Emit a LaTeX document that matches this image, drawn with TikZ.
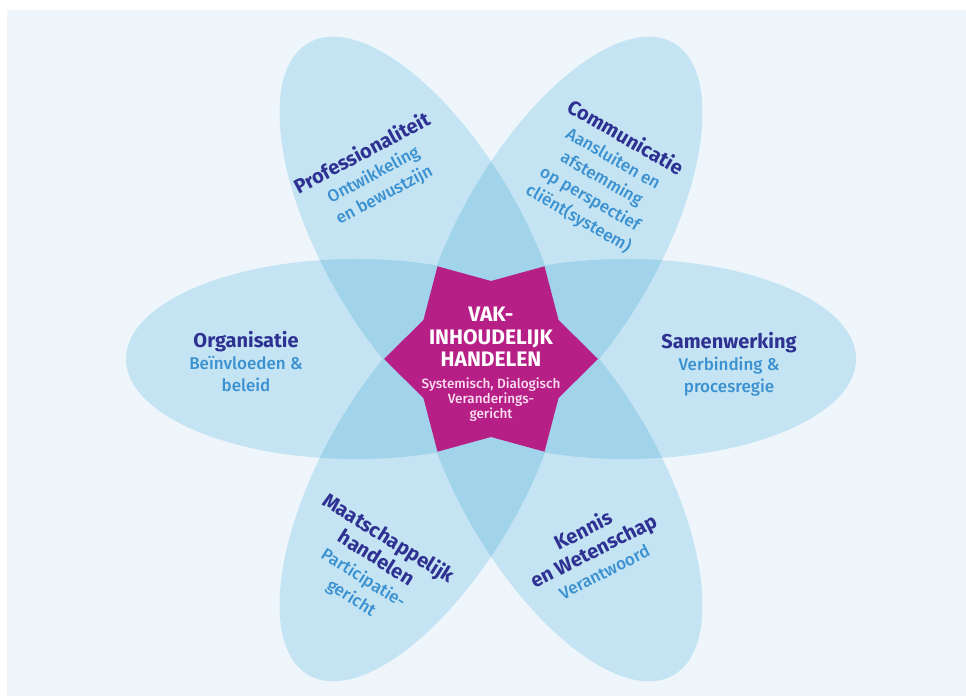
\documentclass[tikz,border=0pt]{standalone}
\usepackage{fontspec}
\setmainfont{Fira Sans}[UprightFont=* Medium, BoldFont=* Bold]

\definecolor{bgblue}{RGB}{238,246,251}
\definecolor{petalblue}{RGB}{196,228,243}
\definecolor{lensblue}{RGB}{161,211,235}
\definecolor{starpink}{RGB}{182,31,134}
\definecolor{titleblue}{RGB}{46,49,146}
\definecolor{subblue}{RGB}{59,145,208}
\definecolor{starsub}{RGB}{250,222,240}

\newcommand{\kop}{\color{titleblue}\bfseries\fontsize{20}{23}\selectfont}

\begin{document}
\begin{tikzpicture}[
					x = 1pt, y = 1pt,
					petal/.style = {fill = petalblue},
					lens/.style = {fill = lensblue},
					hexstar/.style = {fill = starpink},
					petaltext/.style = {
						align = center,
						text = subblue,
						inner sep = 0pt,
						font = \fontsize{17}{22}\selectfont,
					},
					tilted/.style = {
						petaltext,
						font = \fontsize{17}{23}\selectfont,
					},
					kerntext/.style = {
						align = center,
						text = white,
						inner sep = 0pt,
					},
			]
				\useasboundingbox (0, 0) rectangle (966, 696);
				\fill[white] (0, 0) rectangle (966, 696);
				\fill[bgblue] (7, 0) rectangle (966, 686);
				\coordinate (c) at (491, 337);

				% petals
				\foreach \a in {0, 60, ..., 300}
					\fill[petal, shift = {(c)}, rotate = \a] (135, 0) ellipse [x radius = 230, y radius = 100];

				% overlap of neighbouring petals
				\foreach \a in {0, 60, ..., 300} {
					\begin{scope}
						\clip[shift = {(c)}, rotate = \a] (135, 0) ellipse [x radius = 230, y radius = 100];
						\fill[lens, shift = {(c)}, rotate = \a + 60] (135, 0) ellipse [x radius = 230, y radius = 100];
					\end{scope}
				}

				% star in the middle
				\fill[hexstar, shift = {(c)}] (0:107)
					\foreach \k in {0, 60, ..., 300} { -- (\k + 30:78) -- (\k + 60:107) } -- cycle;

				\node[kerntext, font = \bfseries\fontsize{21}{22.5}\selectfont] (kern) at (491, 359) {VAK-\\INHOUDELIJK\\HANDELEN};
				\node[kerntext, text = starsub, font = \fontsize{13.5}{15}\selectfont] (kernsub) at (491, 296) {Systemisch, Dialogisch\\Veranderings-\\gericht};

				\node[petaltext] (org) at (246, 334) {{\kop Organisatie}\\Beïnvloeden \&\\beleid};
				\node[petaltext] (samen) at (729, 332) {{\kop Samenwerking}\\Verbinding \&\\procesregie};
				\node[tilted, rotate = 28] (prof) at (373, 522) {{\kop Professionaliteit}\\Ontwikkeling\\en bewustzijn};
				\node[tilted, rotate = -30] (comm) at (602, 518) {{\kop Communicatie}\\Aansluiten en\\afstemming\\op perspectief\\cliënt(systeem)};
				\node[tilted, rotate = -32] (maat) at (370, 128) {{\kop Maatschappelijk}\\{\kop handelen}\\Participatie-\\gericht};
				\node[tilted, rotate = 27] (kennis) at (593, 146) {{\kop Kennis}\\{\kop en Wetenschap}\\Verantwoord};
			\end{tikzpicture}
\end{document}
